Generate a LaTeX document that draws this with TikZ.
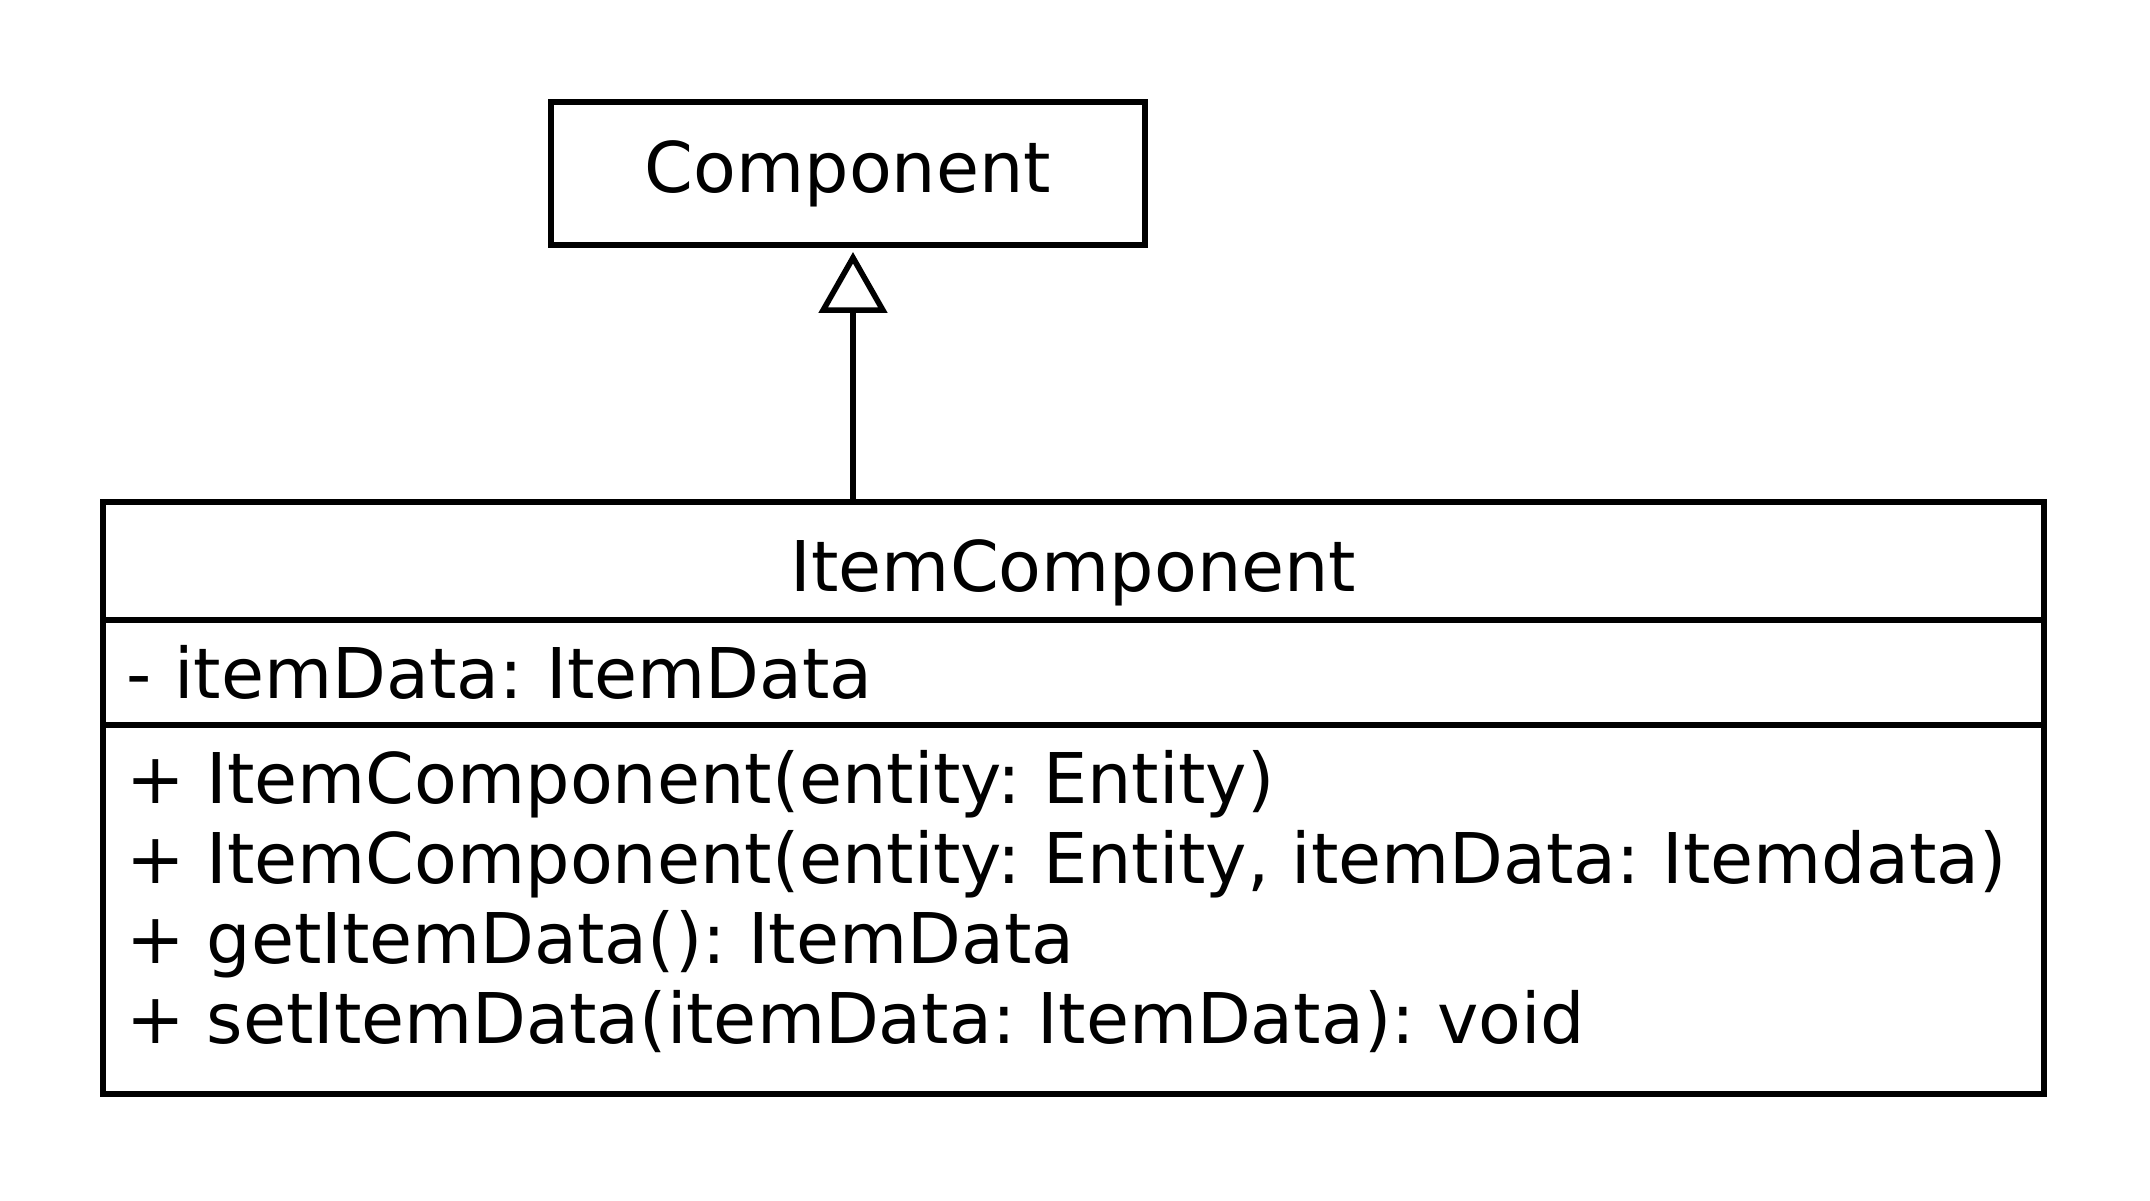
\documentclass[tikz,border=0pt]{standalone}
\usepackage{fontspec}
\setmainfont{DejaVu Sans}
\usetikzlibrary{arrows.meta, positioning}
\frenchspacing

\newcommand{\umlfont}{\fontsize{19.9}{24}\selectfont}

\begin{document}
\begin{tikzpicture}[
    classbox/.style={rectangle, draw=black, line width=1.6pt, outer sep=0pt,
                     inner sep=0pt, font=\umlfont, align=center},
    compart/.style={rectangle, draw=black, line width=1.6pt, outer sep=0pt,
                    minimum width=19.41cm, text width=18.95cm,
                    inner xsep=0.23cm, inner ysep=0pt,
                    font=\umlfont, align=left},
    member/.style={rectangle, inner sep=0pt, outer sep=0pt,
                   text height=0.6cm, text depth=0.2cm,
                   font=\umlfont, align=left},
    inherit/.style={-{Triangle[open, length=0.61cm, width=0.68cm]},
                    line width=1.6pt, shorten >=0.07cm},
]
\useasboundingbox (0,0) rectangle (21.5,12);

%% -- Component --------------------------------------------------------------
\node[classbox, minimum width=5.94cm, minimum height=1.43cm] (comp) at (8.48,10.265) {Component};

%% -- ItemComponent ----------------------------------------------------------
\node[compart, align=center, minimum height=1.18cm, text height=0.62cm, text depth=0cm] (itemH) at (10.735,6.39) {ItemComponent};
\node[compart, below=0pt of itemH, minimum height=1.05cm] (itemA) {- itemData: ItemData};
\node[compart, below=0pt of itemA, minimum height=3.69cm] (itemM) {};

\node[member, anchor=north west] (m1) at ([xshift=0.23cm, yshift=-0.18cm]itemM.north west)
     {+ ItemComponent(entity: Entity)};
\node[member, below=0pt of m1.south west, anchor=north west] (m2)
     {+ ItemComponent(entity: Entity, itemData: Itemdata)};
\node[member, below=0pt of m2.south west, anchor=north west] (m3)
     {+ getItemData(): ItemData};
\node[member, below=0pt of m3.south west, anchor=north west] (m4)
     {+ setItemData(itemData: ItemData): void};

%% -- Generalization ---------------------------------------------------------
\coordinate (gen) at ([xshift=0.05cm]comp.south);
\draw[inherit] (gen |- itemH.north) -- (gen);

\end{tikzpicture}
\end{document}
